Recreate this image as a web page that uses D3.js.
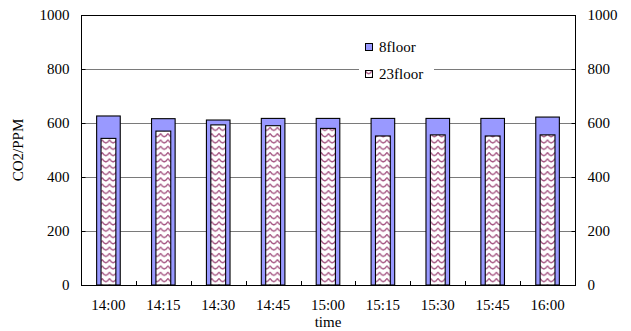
<!DOCTYPE html>
<html>
<head>
<meta charset="utf-8">
<script src="https://cdn.jsdelivr.net/npm/d3@7"></script>
<style>
  html, body { margin: 0; padding: 0; background: #fff; }
  svg { display: block; }
  svg text { font-family: "Liberation Serif", "Times New Roman", serif !important; font-size: 15px; fill: #000; }
</style>
</head>
<body>
<div id="chart"></div>
<script>
// CO2 concentration by time of day, two floors
const times = ["14:00", "14:15", "14:30", "14:45", "15:00", "15:15", "15:30", "15:45", "16:00"];
const floor8 = [626, 616, 611, 617, 617, 617, 617, 617, 622];
const floor23 = [543, 570, 593, 590, 580, 552, 556, 552, 556];
const yTicks = [0, 200, 400, 600, 800, 1000];
const seriesNames = ["8floor", "23floor"];

const W = 631, H = 331;
const plot = { left: 81, right: 575, top: 15, bottom: 285 };
const SERIF = '"Liberation Serif", "Times New Roman", serif';

const svg = d3.select("#chart").append("svg")
  .attr("width", W).attr("height", H);

// zigzag fill for the 23floor bars
const defs = svg.append("defs");
const pat = defs.append("pattern")
  .attr("id", "zigzag")
  .attr("patternUnits", "userSpaceOnUse")
  .attr("width", 7.3).attr("height", 6.3);
pat.append("rect").attr("width", 7.3).attr("height", 6.3).attr("fill", "#fff");
pat.append("path")
  .attr("d", "M0,1.2 L1.8,3.6 L3.65,4.4 L5.5,3.6 L7.3,1.2")
  .attr("fill", "none")
  .attr("stroke", "#a2507e")
  .attr("stroke-width", 1.3);

const x = d3.scaleBand().domain(times).range([plot.left, plot.right]).padding(0);
const y = d3.scaleLinear().domain([0, 1000]).range([plot.bottom, plot.top]);

// horizontal gridlines
svg.append("g").selectAll("line")
  .data(yTicks.filter(v => v > 0 && v < 1000))
  .join("line")
  .attr("x1", plot.left).attr("x2", plot.right)
  .attr("y1", d => Math.round(y(d)) + 0.5).attr("y2", d => Math.round(y(d)) + 0.5)
  .attr("stroke", "#7a7a7a").attr("stroke-width", 1);

const outerW = x.bandwidth() * 0.43;
const innerW = x.bandwidth() * 0.27;

// 8floor bars (wide, behind)
svg.append("g").selectAll("rect")
  .data(times.map((t, i) => ({ t, v: floor8[i] })))
  .join("rect")
  .attr("x", d => x(d.t) + x.bandwidth() / 2 - outerW / 2)
  .attr("y", d => y(d.v))
  .attr("width", outerW)
  .attr("height", d => y(0) - y(d.v))
  .attr("fill", "#9999ff")
  .attr("stroke", "#000").attr("stroke-width", 1.1);

// 23floor bars (narrow, in front)
svg.append("g").selectAll("rect")
  .data(times.map((t, i) => ({ t, v: floor23[i] })))
  .join("rect")
  .attr("x", d => x(d.t) + x.bandwidth() / 2 - innerW / 2)
  .attr("y", d => y(d.v))
  .attr("width", innerW)
  .attr("height", d => y(0) - y(d.v))
  .attr("fill", "url(#zigzag)")
  .attr("stroke", "#000").attr("stroke-width", 1.1);

// left and right value axes
const gL = svg.append("g").attr("transform", `translate(${plot.left + 0.5},0)`)
  .call(d3.axisLeft(y).tickValues(yTicks).tickSize(-4).tickPadding(12).tickFormat(d3.format("d")));
const gR = svg.append("g").attr("transform", `translate(${plot.right + 0.5},0)`)
  .call(d3.axisRight(y).tickValues(yTicks).tickSize(-4).tickPadding(12).tickFormat(d3.format("d")));
[gL, gR].forEach(g => {
  g.attr("font-family", SERIF).attr("font-size", 15);
  g.select(".domain").attr("stroke", "#000").attr("d", `M0,${plot.top}V${plot.bottom}`);
  g.selectAll(".tick line").attr("stroke", "#000");
  g.selectAll("text").attr("font-family", SERIF).attr("fill", "#000");
});

// top frame line and baseline
svg.append("line")
  .attr("x1", plot.left).attr("x2", plot.right + 1)
  .attr("y1", plot.top + 0.5).attr("y2", plot.top + 0.5)
  .attr("stroke", "#000");
svg.append("line")
  .attr("x1", plot.left).attr("x2", plot.right + 1)
  .attr("y1", plot.bottom + 0.5).attr("y2", plot.bottom + 0.5)
  .attr("stroke", "#000");

// category dividers on the baseline
svg.append("g").selectAll("line")
  .data(d3.range(1, times.length))
  .join("line")
  .attr("x1", i => Math.round(plot.left + i * x.step()) + 0.5)
  .attr("x2", i => Math.round(plot.left + i * x.step()) + 0.5)
  .attr("y1", plot.bottom - 4).attr("y2", plot.bottom)
  .attr("stroke", "#000");

// category labels
const gB = svg.append("g").attr("transform", `translate(0,${plot.bottom})`)
  .call(d3.axisBottom(x).tickSize(0).tickPadding(14));
gB.select(".domain").remove();
gB.attr("font-family", SERIF).attr("font-size", 15);
gB.selectAll("text").attr("font-family", SERIF).attr("fill", "#000");

// axis titles
svg.append("text")
  .attr("x", (plot.left + plot.right) / 2).attr("y", 327)
  .attr("text-anchor", "middle").text("time");
svg.append("text")
  .attr("transform", `translate(23,${(plot.top + plot.bottom) / 2}) rotate(-90)`)
  .attr("text-anchor", "middle").text("CO2/PPM");

// legend
const lg = svg.append("g");
lg.append("rect").attr("x", 359).attr("y", 35).attr("width", 75).attr("height", 50).attr("fill", "#fff");
const legendFills = ["#9999ff", "url(#zigzag)"];
seriesNames.forEach((name, i) => {
  const yy = 44 + i * 27;
  lg.append("rect").attr("x", 365.5).attr("y", yy - 0.5).attr("width", 7).attr("height", 7)
    .attr("fill", legendFills[i]).attr("stroke", "#000").attr("stroke-width", 1);
  lg.append("text").attr("x", 379).attr("y", yy + 7.5).text(name);
});
</script>
</body>
</html>
